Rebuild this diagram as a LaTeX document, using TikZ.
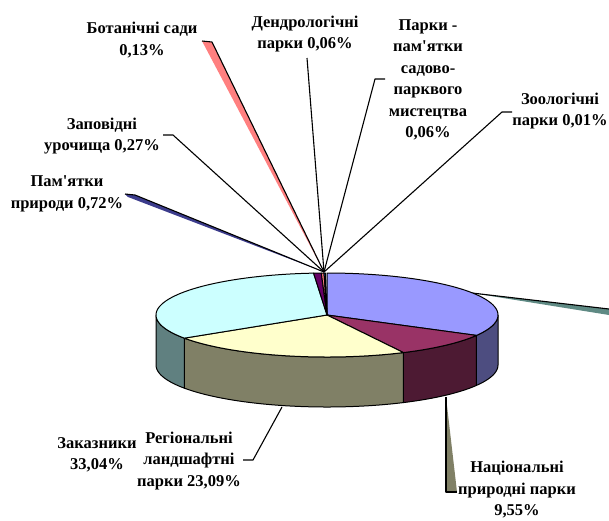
\documentclass[tikz,border=0pt]{standalone}
\usepackage{fontspec}
\setmainfont{Liberation Serif}[Ligatures=TeXOff]
\definecolor{peri}{HTML}{9999FF}
\definecolor{periside}{HTML}{4D4D80}
\definecolor{plum}{HTML}{993366}
\definecolor{plumside}{HTML}{4D1A33}
\definecolor{ivory}{HTML}{FFFFCC}
\definecolor{ivoryside}{HTML}{808066}
\definecolor{turq}{HTML}{CCFFFF}
\definecolor{turqside}{HTML}{608080}
\definecolor{dpurple}{HTML}{660066}
\definecolor{coral}{HTML}{FF8080}
\definecolor{oblue}{HTML}{0066CC}
\definecolor{navyw}{HTML}{3C3C8C}
\definecolor{tealw}{HTML}{5F8A84}
\begin{document}
\begin{tikzpicture}[x=1pt,y=-1pt,
  lbl/.style={font=\bfseries\fontsize{16.5}{21.5}\selectfont,align=center,inner sep=0pt},
  lead/.style={draw=black,line width=1.1pt,line join=round},
  edge/.style={draw=black,line width=1pt,line join=round}]
\useasboundingbox (0,0) rectangle (609,520);
\clip (0,0) rectangle (609,520);
% labels
\node[lbl] (bot) at (142,40) {Ботанічні сади\\0,13\%};
\node[lbl] (dend) at (305,34) {Дендрологічні\\парки 0,06\%};
\node[lbl] (park) at (428,80) {Парки -\\пам'ятки\\садово-\\парквого\\мистецтва\\0,06\%};
\node[lbl] (zoo) at (560,111) {Зоологічні\\парки 0,01\%};
\node[lbl] (zap) at (102,136) {Заповідні\\урочища 0,27\%};
\node[lbl] (pam) at (67,194) {Пам'ятки\\природи 0,72\%};
\node[lbl] (zak) at (97,455) {Заказники\\33,04\%};
\node[lbl] (reg) at (189,461) {Регіональні\\ландшафтні\\парки 23,09\%};
\node[lbl] (nat) at (517,490) {Національні\\природні парки\\9,55\%};
% leader coordinates
\coordinate (apex) at (324,272);
\coordinate (botA) at (202,41);
\coordinate (botB) at (212,42);
\coordinate (dendA) at (307,58);
\coordinate (parkA) at (385,79);
\coordinate (parkB) at (375,79);
\coordinate (zooA) at (512,112);
\coordinate (zooB) at (502,112);
\coordinate (zapA) at (163,135);
\coordinate (zapB) at (173,135);
\coordinate (pamA) at (125,194);
\coordinate (pamB) at (135,195);
\coordinate (pamC) at (128,197);
\coordinate (regA) at (243,460);
\coordinate (regB) at (253,460);
\coordinate (regC) at (282,407);
\coordinate (natA) at (446,397);
\coordinate (natB) at (446,492);
\coordinate (natC) at (457,492);
\coordinate (perA) at (472,293);
\coordinate (perB) at (609,309);
\coordinate (perC) at (609,315);
% leaders
\fill[coral] (botA) -- (botB) -- (apex) -- cycle;
\draw[lead] (botA) -- (botB) -- (apex);
\draw[lead] (dendA) -- (apex);
\draw[lead] (parkA) -- (parkB) -- (apex);
\draw[lead] (zooA) -- (zooB) -- (apex);
\draw[lead] (zapA) -- (zapB) -- (apex);
\fill[navyw] (pamA) -- (pamB) -- (apex) -- (pamC) -- cycle;
\draw[lead] (pamA) -- (pamB) -- (apex);
\draw[lead] (regA) -- (regB) -- (regC);
\fill[tealw] (perA) -- (perB) -- (perC) -- cycle;
\draw[lead] (perA) -- (perB);
% pie sides
\coordinate (c) at (327,315);
\foreach \a/\b/\col in {0/29.05/periside,29.05/63.43/plumside,63.43/146.56/ivoryside,146.56/180/turqside}{
  \draw[edge,fill=\col] plot[domain=\a:\b,samples=40] ({327+171*cos(\x)},{315+42*sin(\x)})
     -- plot[domain=\b:\a,samples=40] ({327+171*cos(\x)},{365+42*sin(\x)}) -- cycle;
}
% pie top
\foreach \a/\b/\col in {-90/29.05/peri,29.05/63.43/plum,63.43/146.56/ivory,146.56/265.5/turq,265.5/268.09/dpurple,268.09/269/coral,269/269.5/oblue}{
  \draw[edge,fill=\col] (c) -- plot[domain=\a:\b,samples=60] ({327+171*cos(\x)},{315+42*sin(\x)}) -- cycle;
}
\fill[ivoryside] (natA) -- (natB) -- (natC) -- cycle;
\draw[lead] (natA) -- (natB) -- (natC);
\end{tikzpicture}
\end{document}
